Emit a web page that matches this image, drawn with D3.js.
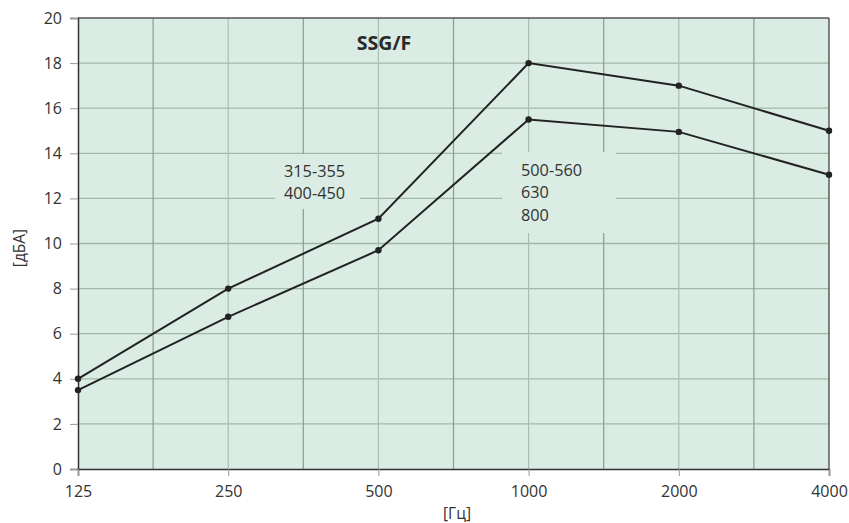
<!DOCTYPE html>
<html>
<head>
<meta charset="utf-8">
<script src="https://cdn.jsdelivr.net/npm/d3@7"></script>
<style>
  html, body { margin: 0; padding: 0; background: #fff; }
  svg { display: block; font-family: "Open Sans", "Noto Sans", sans-serif; }
</style>
</head>
<body>
<svg id="chart" width="849" height="523"></svg>
<script>
// Octave-band frequencies, Hz
const frequencies = [125, 250, 500, 1000, 2000, 4000];
// Sound level, dB(A), per size group
const upperSeries = [4.0, 8.0, 11.1, 18.0, 17.0, 15.0];
const lowerSeries = [3.5, 6.75, 9.7, 15.5, 14.95, 13.05];
const yTicks = [0, 2, 4, 6, 8, 10, 12, 14, 16, 18, 20];
const groupLabelA = ["315-355", "400-450"];
const groupLabelB = ["500-560", "630", "800"];
const title = "SSG/F";

const svg = d3.select("#chart");
const m = { left: 78, top: 18, right: 20, bottom: 54 };
const W = 849, H = 523;
const x = d3.scaleLog().base(2).domain([125, 4000]).range([m.left, W - m.right]);
const y = d3.scaleLinear().domain([0, 20]).range([H - m.bottom, m.top]);
const FONT = "'Open Sans', 'Noto Sans', sans-serif";

// plot background
svg.append("rect")
  .attr("x", x(125)).attr("y", y(20))
  .attr("width", x(4000) - x(125)).attr("height", y(0) - y(20))
  .attr("fill", "#daece3");

const grid = svg.append("g");
// horizontal grid
grid.selectAll("line.h").data(yTicks.filter(v => v > 0 && v < 20)).join("line")
  .attr("x1", x(125)).attr("x2", x(4000))
  .attr("y1", d => y(d)).attr("y2", d => y(d))
  .attr("stroke", "#a3b8ac").attr("stroke-width", 1.3);
// vertical grid at octave frequencies
grid.selectAll("line.v").data(frequencies.slice(1, -1)).join("line")
  .attr("x1", d => x(d)).attr("x2", d => x(d))
  .attr("y1", y(20)).attr("y2", y(0))
  .attr("stroke", "#aabfb3").attr("stroke-width", 1.2);
// vertical grid between octaves
const mids = frequencies.slice(0, -1).map(f => f * Math.SQRT2);
grid.selectAll("line.m").data(mids).join("line")
  .attr("x1", d => x(d)).attr("x2", d => x(d))
  .attr("y1", y(20)).attr("y2", y(0))
  .attr("stroke", "#8c9c92").attr("stroke-width", 1.2);

// label backgrounds that mask the grid
svg.append("rect").attr("x", 275).attr("y", 154).attr("width", 85).attr("height", 55).attr("fill", "#daece3");
svg.append("rect").attr("x", 502).attr("y", 152).attr("width", 114).attr("height", 81).attr("fill", "#daece3");

// frame
svg.append("line").attr("x1", x(125)).attr("x2", x(4000)).attr("y1", y(20)).attr("y2", y(20))
  .attr("stroke", "#555").attr("stroke-width", 1.3);
svg.append("line").attr("x1", x(4000)).attr("x2", x(4000)).attr("y1", y(20)).attr("y2", y(0))
  .attr("stroke", "#444").attr("stroke-width", 1.3);

// axes
const yAxis = svg.append("g").attr("transform", `translate(${x(125)},0)`)
  .call(d3.axisLeft(y).tickValues(yTicks).tickSize(8).tickPadding(8));
const xAxis = svg.append("g").attr("transform", `translate(0,${y(0)})`)
  .call(d3.axisBottom(x).tickValues(frequencies).tickFormat(d3.format("d")).tickSize(7).tickPadding(10));
[yAxis, xAxis].forEach(a => {
  a.attr("font-size", 16).attr("font-family", FONT);
  a.select(".domain").attr("stroke", "#333").attr("stroke-width", 1.5);
  a.selectAll(".tick line").attr("stroke", "#999");
  a.selectAll(".tick text").attr("fill", "#333");
});

// axis titles
svg.append("text").attr("x", 457).attr("y", 519)
  .attr("text-anchor", "middle").attr("font-size", 15.5).attr("fill", "#333").text("[Гц]");
svg.append("text").attr("transform", "translate(25,248) rotate(-90)")
  .attr("text-anchor", "middle").attr("font-size", 15.5).attr("fill", "#333").text("[дБА]");

// series lines and markers
const line = d3.line().x((d, i) => x(frequencies[i])).y(d => y(d));
[upperSeries, lowerSeries].forEach(s => {
  svg.append("path").datum(s).attr("d", line)
    .attr("fill", "none").attr("stroke", "#222").attr("stroke-width", 2);
  svg.selectAll(null).data(s).join("circle")
    .attr("cx", (d, i) => x(frequencies[i])).attr("cy", d => y(d)).attr("r", 3.2)
    .attr("fill", "#222");
});

// title
svg.append("text").attr("x", 384).attr("y", 50).attr("text-anchor", "middle")
  .attr("font-size", 19.5).attr("font-weight", "bold").attr("fill", "#2a2a2a").text(title);

// group labels
svg.append("g").selectAll("text").data(groupLabelA).join("text")
  .attr("x", 284).attr("y", (d, i) => 176.5 + i * 22.7)
  .attr("font-size", 16.3).attr("font-weight", 500).attr("fill", "#333").text(d => d);
svg.append("g").selectAll("text").data(groupLabelB).join("text")
  .attr("x", 521).attr("y", (d, i) => 175.7 + i * 22.7)
  .attr("font-size", 16.3).attr("font-weight", 500).attr("fill", "#333").text(d => d);
</script>
</body>
</html>
